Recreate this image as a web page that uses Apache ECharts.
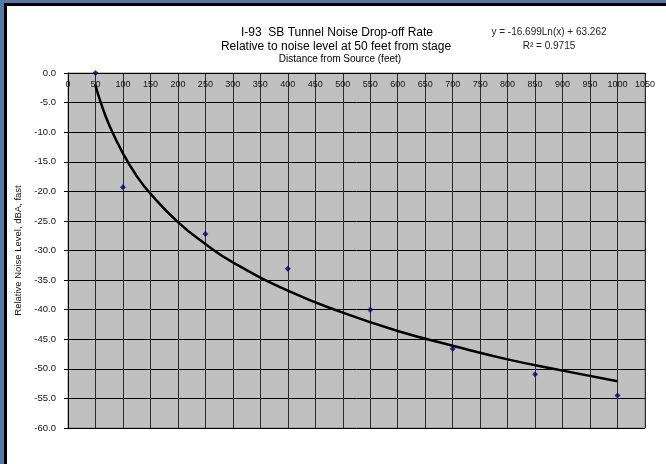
<!DOCTYPE html>
<html>
<head>
<meta charset="utf-8">
<script src="https://cdn.jsdelivr.net/npm/echarts@6/dist/echarts.min.js"></script>
<style>
  html, body { margin: 0; padding: 0; width: 666px; height: 464px; overflow: hidden; background: #5679a8; }
  #frame { position: absolute; left: 4px; top: 3px; width: 659px; height: 458px; background: #fff; border-left: 3px solid #000; border-top: 3px solid #000; }
  #chart { position: absolute; left: 0; top: 0; width: 666px; height: 464px; }
</style>
</head>
<body>
<div id="frame"></div>
<div id="chart"></div>
<script>
// Measured data points (distance ft, relative level dBA)
const distances = [50, 100, 250, 400, 550, 700, 850, 1000];
const levels = [0.0, -19.3, -27.2, -33.1, -40.0, -46.6, -50.9, -54.5];
// Trendline
const trendDistances = [50, 60, 75, 100, 125, 150, 200, 250, 300, 400, 500, 600, 700, 800, 900, 1000];
const trendLevels = [-2.1, -5.1, -8.8, -13.6, -17.4, -20.4, -25.2, -28.9, -32.0, -36.8, -40.5, -43.6, -46.1, -48.4, -50.3, -52.1];
// Texts
const titleLines = ['I-93  SB Tunnel Noise Drop-off Rate', 'Relative to noise level at 50 feet from stage'];
const xAxisName = 'Distance from Source (feet)';
const yAxisName = 'Relative Noise Level, dBA, fast';
const equationLines = ['y = -16.699Ln(x) + 63.262', 'R\u00B2 = 0.9715'];

const font = 'Liberation Sans, Arial, sans-serif';
const chart = echarts.init(document.getElementById('chart'), null, { renderer: 'canvas' });

chart.setOption({
  animation: false,
  backgroundColor: 'transparent',
  grid: {
    left: 68, top: 73, width: 577, height: 355,
    show: true, backgroundColor: '#c0c0c0', borderColor: '#808080', borderWidth: 1
  },
  graphic: [
    { type: 'text', x: 337, y: 33, style: { text: titleLines[0], align: 'center', verticalAlign: 'middle', fontSize: 12, fontFamily: font, fill: '#000' } },
    { type: 'text', x: 336, y: 47, style: { text: titleLines[1], align: 'center', verticalAlign: 'middle', fontSize: 12, fontFamily: font, fill: '#000' } },
    { type: 'text', x: 340, y: 59, style: { text: xAxisName, align: 'center', verticalAlign: 'middle', fontSize: 10, fontFamily: font, fill: '#000' } },
    { type: 'text', x: 549, y: 32, style: { text: equationLines[0], align: 'center', verticalAlign: 'middle', fontSize: 10, fontFamily: font, fill: '#222' } },
    { type: 'text', x: 549, y: 46, style: { text: equationLines[1], align: 'center', verticalAlign: 'middle', fontSize: 10, fontFamily: font, fill: '#222' } }
  ],
  xAxis: {
    type: 'value', position: 'top', min: 0, max: 1050, interval: 50,
    axisLine: { show: true, onZero: false, lineStyle: { color: '#000', width: 1 } },
    axisTick: { show: false },
    axisLabel: { inside: true, margin: 7, fontSize: 9, fontFamily: font, color: '#111', formatter: v => String(v) },
    splitLine: { show: true, lineStyle: { color: '#2a2a2a', width: 1 } }
  },
  yAxis: {
    type: 'value', min: -60, max: 0, interval: 5,
    name: yAxisName, nameLocation: 'middle', nameGap: 41, nameRotate: 90,
    nameTextStyle: { fontSize: 9.5, fontFamily: font, color: '#111' },
    axisLine: { show: true, onZero: false, lineStyle: { color: '#000', width: 1 } },
    axisTick: { show: true, length: 4, lineStyle: { color: '#000' } },
    axisLabel: { margin: 12, fontSize: 9.5, fontFamily: font, color: '#111', formatter: v => v.toFixed(1) },
    splitLine: { show: true, lineStyle: { color: '#000', width: 1 } }
  },
  series: [
    {
      type: 'line', name: 'trend', smooth: true, showSymbol: false, symbol: 'none',
      data: trendDistances.map((d, i) => [d, trendLevels[i]]),
      lineStyle: { color: '#000', width: 2.5 }, z: 3
    },
    {
      type: 'scatter', name: 'measured', symbol: 'diamond', symbolSize: 6,
      data: distances.map((d, i) => [d, levels[i]]),
      itemStyle: { color: '#000080' }, z: 4
    }
  ]
});
</script>
</body>
</html>
